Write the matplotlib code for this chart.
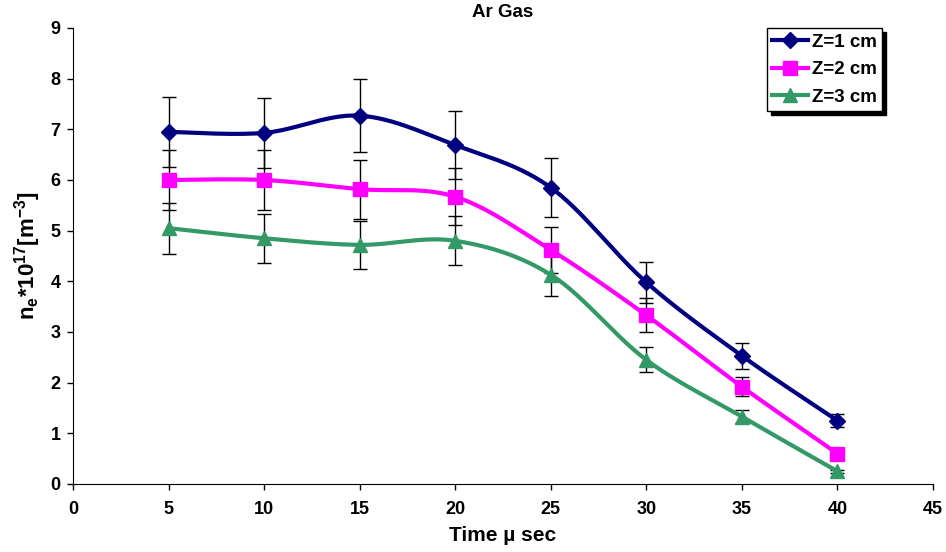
import numpy as np
import matplotlib.pyplot as plt

plt.rcParams['font.family'] = ['Liberation Sans', 'DejaVu Sans']
plt.rcParams['mathtext.fontset'] = 'custom'
plt.rcParams['mathtext.bf'] = 'Liberation Sans:bold'
plt.rcParams['mathtext.rm'] = 'Liberation Sans:bold'
plt.rcParams['mathtext.default'] = 'bf'

# données
time = [5, 10, 15, 20, 25, 30, 35, 40]
ne_z1 = [6.95, 6.93, 7.27, 6.69, 5.85, 3.98, 2.53, 1.25]
ne_z2 = [6.00, 6.00, 5.82, 5.67, 4.62, 3.33, 1.92, 0.60]
ne_z3 = [5.05, 4.85, 4.72, 4.80, 4.13, 2.45, 1.33, 0.25]
labels = ["Z=1 cm", "Z=2 cm", "Z=3 cm"]
err_frac = 0.10  # barres d'erreur à 10 %


def lissage(x, y, n=30):
    # courbe lissée façon Excel (Bézier / Catmull-Rom)
    x = np.asarray(x, float)
    y = np.asarray(y, float)
    P = np.column_stack([x, y])
    P = np.vstack([P[0], P, P[-1]])
    t = np.linspace(0, 1, n)[:, None]
    out = []
    for i in range(1, len(P) - 2):
        p0, p3 = P[i], P[i + 1]
        c1 = p0 + (P[i + 1] - P[i - 1]) / 6
        c2 = p3 - (P[i + 2] - P[i]) / 6
        seg = ((1 - t) ** 3) * p0 + 3 * ((1 - t) ** 2) * t * c1 + 3 * (1 - t) * t ** 2 * c2 + t ** 3 * p3
        out.append(seg if i == 1 else seg[1:])
    out = np.vstack(out)
    return out[:, 0], out[:, 1]


fig = plt.figure(figsize=(9.46, 5.52), dpi=100)
ax = fig.add_axes([73 / 946, 68 / 552, 860 / 946, 456 / 552])

series = [ne_z1, ne_z2, ne_z3]
colors = ["#000080", "#FF00FF", "#339966"]
markers = ["D", "s", "^"]
msizes = [8, 10, 10]

for y, c, m, ms, lab in zip(series, colors, markers, msizes, labels):
    yerr = np.array(y) * err_frac
    ax.errorbar(time, y, yerr=yerr, fmt="none", ecolor="black", elinewidth=1,
                capsize=5, capthick=1, zorder=2)
    xs, ys = lissage(time, y)
    ax.plot(xs, ys, color=c, lw=3, zorder=3)
    ax.plot(time, y, linestyle="none", marker=m, color=c, markersize=ms, zorder=4)
    ax.plot([], [], color=c, lw=3, marker=m, markersize=ms, label=lab)

ax.set_xlim(0, 45)
ax.set_ylim(0, 9)
ax.set_xticks(range(0, 46, 5))
ax.set_yticks(range(0, 10))
ax.tick_params(direction="out", length=4, width=1, labelsize=13)
ax.tick_params(axis="x", pad=8)
ax.tick_params(axis="y", pad=5)
for lbl in ax.get_xticklabels() + ax.get_yticklabels():
    lbl.set_fontweight("bold")
ax.spines["top"].set_visible(False)
ax.spines["right"].set_visible(False)

ax.set_xlabel("Time µ sec", fontsize=15, fontweight="bold", labelpad=6)
ax.set_ylabel(r"n$_{e}$*10$^{17}$[m$^{-3}$]", fontsize=16, fontweight="bold", labelpad=5)
ax.set_title("Ar Gas", fontsize=13.5, fontweight="bold", pad=8)

leg = ax.legend(loc="upper right", bbox_to_anchor=(0.9407, 1.0), borderaxespad=0,
                frameon=True, fancybox=False, shadow={"color": "black", "alpha": 1, "ox": 3, "oy": -3},
                prop={"weight": "bold", "size": 13.5}, handlelength=1.9,
                handletextpad=0.2, borderpad=0.3, labelspacing=0.55)
leg.get_frame().set_edgecolor("black")
leg.get_frame().set_linewidth(1)

fig.savefig("out.png", dpi=100)
